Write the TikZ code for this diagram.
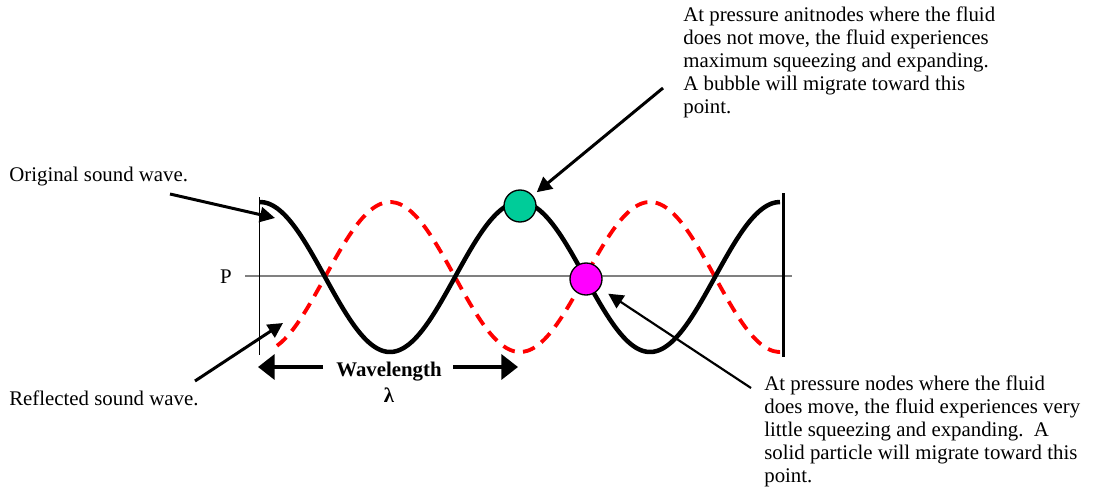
\documentclass[tikz,border=0pt]{standalone}
\usepackage{fontspec}
\setmainfont{Liberation Serif}
\usetikzlibrary{arrows.meta, positioning}

\definecolor{beadgreen}{RGB}{0,204,153}
\definecolor{beadpink}{RGB}{255,0,255}
\tikzset{
  note/.style={font=\fontsize{12.5}{13.8}\selectfont, inner sep=0pt, align=left, anchor=base west},
  pointer/.style={line width=1.8pt, -{Triangle[length=9pt, width=9pt]}},
  spanarrow/.style={line width=2.2pt, -{Triangle[length=10pt, width=15pt]}},
  bead/.style={circle, draw=black, line width=0.8pt, minimum size=19.2pt, inner sep=0pt},
}

\begin{document}
\begin{tikzpicture}[x=0.6pt, y=-0.6pt]
    \useasboundingbox (0,0) rectangle (1094,492);

    % Axis and the two ends
    \draw[gray, line width=0.8pt] (245,276) -- (792,276);
    \draw[line width=0.6pt] (259,197) -- (259,355);
    \draw[line width=1.8pt] (783,193) -- (783,357);
    \node[note, anchor=base] (p) at (226,283) {P};

    % Reflected and original waves
    \draw[red, line width=2.3pt, dash pattern=on 7.5pt off 5pt]
        plot[domain=277:782, samples=120, smooth] (\x, {277+75*cos((\x-260)*1.384615)});
    \draw[line width=2.7pt, line join=round]
        plot[domain=260:780, samples=120, smooth] (\x, {277-75*cos((\x-260)*1.384615)});

    % Antinode and node
    \node[bead, fill=beadgreen] (antinode) at (520,206) {};
    \node[bead, fill=beadpink] (pnode) at (586,279) {};

    % Labels (multi-line notes sit on their last baseline)
    \node[note] (orig) at (9,181) {Original sound wave.};
    \node[note] (refl) at (9,405) {Reflected sound wave.};
    \node[note] (bubble) at (683,113) {At pressure anitnodes where the fluid\\
        does not move, the fluid experiences\\
        maximum squeezing and expanding.\\
        A bubble will migrate toward this\\
        point.};
    \node[note] (particle) at (764,482) {At pressure nodes where the fluid\\
        does move, the fluid experiences very\\
        little squeezing and expanding.\ \ A\\
        solid particle will migrate toward this\\
        point.};
    \node[note, anchor=base, font=\fontsize{12.5}{13.8}\selectfont\bfseries] (wl) at (389,376) {Wavelength};
    \node[note, anchor=base, font=\fontsize{12.5}{13.8}\selectfont\bfseries] (lambda) at (389,402) {λ};

    % Pointers
    \coordinate (origtail) at (170,194);
    \coordinate (origtip) at (275,218);
    \coordinate (refltail) at (195,381);
    \coordinate (refltip) at (283,323);
    \coordinate (bubbletail) at (663,88);
    \coordinate (particletail) at (751,388);
    \draw[pointer] (origtail) -- (origtip);
    \draw[pointer] (refltail) -- (refltip);
    \draw[pointer, shorten >=3pt] (bubbletail) -- (antinode);
    \draw[pointer, line width=1.3pt, shorten >=6pt] (particletail) -- (pnode);

    % Wavelength span
    \coordinate (wlltail) at (323,367);
    \coordinate (wlltip) at (258,367);
    \coordinate (wlrtail) at (453,367);
    \coordinate (wlrtip) at (518,367);
    \draw[spanarrow] (wlltail) -- (wlltip);
    \draw[spanarrow] (wlrtail) -- (wlrtip);
\end{tikzpicture}
\end{document}
